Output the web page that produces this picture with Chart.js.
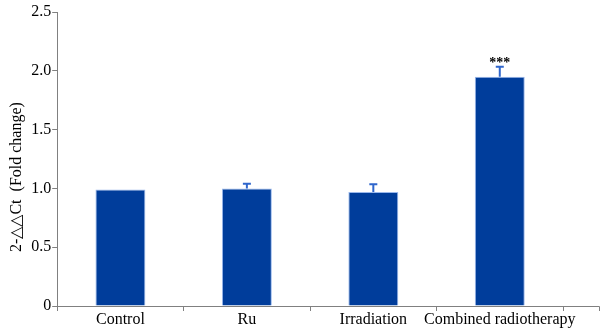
<!DOCTYPE html>
<html>
<head>
<meta charset="utf-8">
<script src="https://cdn.jsdelivr.net/npm/chart.js@4.4.1/dist/chart.umd.min.js"></script>
<style>
  html, body { margin: 0; padding: 0; background: #fff; }
  #wrap { width: 608px; height: 329px; }
</style>
</head>
<body>
<div id="wrap"><canvas id="myChart" width="608" height="329"></canvas></div>
<script>
const groups = ['Control', 'Ru', 'Irradiation', 'Combined radiotherapy'];
const foldChange = [0.99, 1.00, 0.97, 1.95];
const errUp = [0, 0.04, 0.065, 0.085];
const marks = ['', '', '', '***'];
const yTicks = [0, 0.5, 1.0, 1.5, 2.0, 2.5];
const yTitle = '2-\u25B3\u25B3Ct  (Fold change)';

const serif = "'Liberation Serif', 'Times New Roman', serif";

// error bars + significance stars
const errorBars = {
  id: 'errorBars',
  afterDatasetsDraw(chart) {
    const ctx = chart.ctx;
    const meta = chart.getDatasetMeta(0);
    const y = chart.scales.y;
    ctx.save();
    meta.data.forEach((bar, i) => {
      const top = foldChange[i] + errUp[i];
      const yb = y.getPixelForValue(foldChange[i]);
      const yt = y.getPixelForValue(top);
      if (errUp[i] > 0) {
        ctx.strokeStyle = '#2f66cc';
        ctx.lineWidth = 2;
        ctx.beginPath();
        ctx.moveTo(bar.x, yb);
        ctx.lineTo(bar.x, yt);
        ctx.moveTo(bar.x - 4, yt);
        ctx.lineTo(bar.x + 4, yt);
        ctx.stroke();
      }
      if (marks[i]) {
        ctx.fillStyle = '#000';
        ctx.font = "bold 14px " + serif;
        ctx.textAlign = 'center';
        ctx.textBaseline = 'bottom';
        ctx.fillText(marks[i], bar.x, yt + 4);
      }
    });
    // x axis runs a bit past the last group
    const area = chart.chartArea;
    ctx.strokeStyle = '#808080';
    ctx.lineWidth = 1;
    ctx.beginPath();
    ctx.moveTo(area.right, area.bottom + 0.5);
    ctx.lineTo(599.5, area.bottom + 0.5);
    ctx.lineTo(599.5, area.bottom + 5);
    ctx.stroke();
    ctx.restore();
  }
};

new Chart(document.getElementById('myChart').getContext('2d'), {
  type: 'bar',
  data: {
    labels: groups,
    datasets: [{
      data: foldChange,
      backgroundColor: '#003d9b',
      borderColor: '#9ab8ec',
      borderWidth: 1,
      categoryPercentage: 1,
      barPercentage: 0.395
    }]
  },
  options: {
    responsive: false,
    animation: false,
    layout: { padding: { top: 12, right: 45, bottom: 0, left: 7 } },
    plugins: { legend: { display: false }, tooltip: { enabled: false } },
    scales: {
      x: {
        border: { color: '#808080', width: 1 },
        grid: {
          drawOnChartArea: false,
          tickLength: 5,
          color: c => (c.index === groups.length ? 'rgba(0,0,0,0)' : '#808080')
        },
        ticks: {
          color: '#000',
          font: { family: serif, size: 16, lineHeight: 1 },
          padding: 1,
          maxRotation: 0,
          autoSkip: false
        }
      },
      y: {
        min: 0,
        max: 2.5,
        afterBuildTicks: axis => { axis.ticks = yTicks.map(v => ({ value: v })); },
        border: { color: '#808080', width: 1 },
        grid: { drawOnChartArea: false, tickLength: 5, color: '#808080' },
        ticks: {
          color: '#000',
          font: { family: serif, size: 16, lineHeight: 1 },
          padding: 1,
          callback: v => (v === 0 ? '0' : v.toFixed(1))
        },
        title: {
          display: true,
          text: yTitle + '\u2003\u2003 ',
          color: '#000',
          font: { family: serif, size: 16 },
          padding: { top: 0, bottom: 4 }
        }
      }
    }
  },
  plugins: [errorBars]
});
</script>
</body>
</html>
